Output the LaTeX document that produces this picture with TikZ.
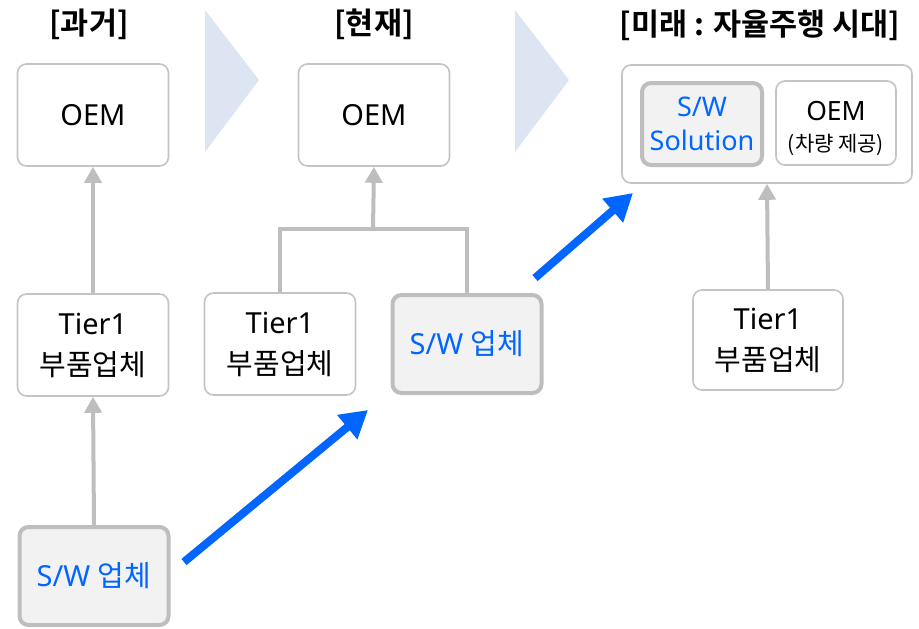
\documentclass[tikz,border=0pt]{standalone}
\usepackage{fontspec}
\setmainfont{Noto Sans}
\newfontfamily\kr{Noto Sans CJK KR}[BoldFont={Noto Sans CJK KR Bold}]
\usetikzlibrary{arrows.meta}
\definecolor{boxline}{HTML}{C4C4C4}
\definecolor{swline}{HTML}{BEBEBE}
\definecolor{swfill}{HTML}{F2F2F2}
\definecolor{chev}{HTML}{DCE5F1}
\definecolor{swblue}{HTML}{0066FF}
\tikzset{
  firm/.style={draw=boxline, line width=1.6pt, rounded corners=9pt, fill=white,
    minimum width=151pt, minimum height=102pt, align=center,
    font=\fontsize{29}{41}\selectfont},
  swfirm/.style={firm, draw=swline, line width=4pt, fill=swfill, text=swblue},
  era/.style={font=\kr\bfseries\fontsize{30.5}{34}\selectfont},
  link/.style={draw=swline, line width=4pt},
  uparrow/.style={link, -{Triangle[width=17pt,length=16pt]}},
  jump/.style={draw=swblue, line width=8pt, -{Triangle[width=30pt,length=27pt]}}
}
\begin{document}
\begin{tikzpicture}[x=1pt, y=-1pt]
\useasboundingbox (0,0) rectangle (919,629);
% era titles
\node[era] (past) at (89,24) {[과거]};
\node[era] (now) at (374,24) {[현재]};
\node[era] (future) at (760,25) {[미래 : 자율주행 시대]};
% chevrons between eras
\fill[chev] (205,10) -- (259,80) -- (205,152) -- cycle;
\fill[chev] (515,10) -- (569,80) -- (515,152) -- cycle;
% past
\node[firm] (oemA) at (93,115) {OEM};
\node[firm] (tierA) at (93,345) {Tier1\\{\kr 부품업체}};
\node[swfirm, minimum width=149pt, minimum height=98pt] (swA) at (94,576) {S/W {\kr 업체}};
\draw[uparrow] (tierA.north) -- (oemA.south);
\draw[uparrow] (swA.north) -- (tierA.south);
% present
\node[firm] (oemB) at (374,115) {OEM};
\node[firm] (tierB) at (280,344) {Tier1\\{\kr 부품업체}};
\node[swfirm, minimum width=149pt, minimum height=98pt] (swB) at (467,344) {S/W {\kr 업체}};
\coordinate (joinB) at (373,229);
\draw[link] (tierB.north) |- (joinB) -| (swB.north);
\draw[uparrow] (joinB) -- (oemB.south);
% future
\node[firm, minimum width=290pt, minimum height=118pt] (groupC) at (767,124) {};
\node[swfirm, minimum width=120pt, minimum height=82pt, inner xsep=2pt,
  font=\fontsize{27}{34}\selectfont] (swC) at (702,124) {S/W\\Solution};
\node[firm, minimum width=120pt, minimum height=84pt,
  font=\fontsize{26.5}{31}\selectfont] (oemC) at (836,123) {\rule{0pt}{31pt}OEM\\{\kr\fontsize{21}{27}\selectfont(차량 제공)}};
\node[firm, minimum width=150pt, minimum height=100pt] (tierC) at (768,340) {Tier1\\{\kr 부품업체}};
\draw[uparrow] (tierC.north) -- (groupC.south);
% shift of S/W role
\coordinate (tailA) at (184,562);
\coordinate (headA) at (368,410);
\coordinate (tailB) at (535,278);
\coordinate (headB) at (633,193);
\draw[jump] (tailA) -- (headA);
\draw[jump] (tailB) -- (headB);
\end{tikzpicture}
\end{document}
